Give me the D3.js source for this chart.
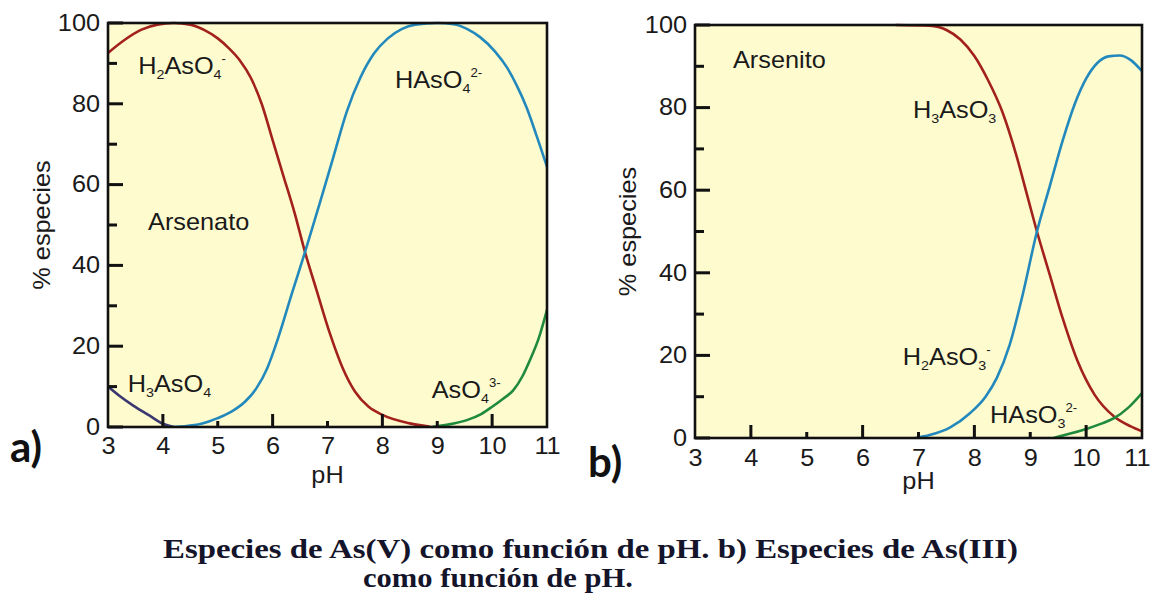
<!DOCTYPE html>
<html>
<head>
<meta charset="utf-8">
<script src="https://cdn.jsdelivr.net/npm/d3@7"></script>
<style>
  html, body { margin: 0; padding: 0; background: #ffffff; }
  svg { display: block; }
</style>
</head>
<body>
<svg id="chart" width="1152" height="594"></svg>
<script>
// ---------------- DATA ----------------
const phTicks = [3, 4, 5, 6, 7, 8, 9, 10, 11];
const phMajor = [4, 6, 8, 10];
const phMinor = [5, 7, 9];
const pctTicks = [0, 20, 40, 60, 80, 100];
const pctMinor = [10, 30, 50, 70, 90];

// a) As(V)
const h3aso4_pH = [3.0, 3.2, 3.46, 3.76, 4.0, 4.2];
const h3aso4 = [10, 7.8, 5.3, 2.8, 0.8, 0];

const h2aso4_pH = [3.0, 3.3, 3.6, 3.9, 4.2, 4.5, 4.75, 5.0, 5.2, 5.4, 5.6, 5.8, 6.0, 6.2, 6.4, 6.59, 6.8, 7.04, 7.28, 7.5, 7.75, 8.0, 8.5, 8.85];
const h2aso4 = [92.6, 95.8, 98.3, 99.6, 100, 99.6, 98.3, 96.2, 93.8, 90.8, 86.5, 80, 71, 62, 53, 43.3, 33.9, 23.3, 14.5, 8.8, 5, 3, 0.9, 0.1];

const haso4_pH = [4.1, 4.4, 4.7, 5.0, 5.25, 5.5, 5.7, 5.9, 6.1, 6.35, 6.59, 6.85, 7.1, 7.35, 7.6, 7.85, 8.1, 8.35, 8.6, 9.0, 9.3, 9.55, 9.78, 10.05, 10.27, 10.45, 10.63, 10.8, 11.0];
const haso4 = [0, 0.2, 0.8, 2.2, 3.8, 6.3, 9.5, 14.5, 22, 33, 43.3, 55, 66.5, 78, 86.5, 92.5, 96.2, 98.5, 99.6, 100, 99.7, 98.5, 96.5, 93, 89, 84.5, 79, 72.5, 64.4];

const aso4_pH = [8.9, 9.2, 9.54, 9.8, 10.0, 10.2, 10.38, 10.55, 10.69, 10.85, 11.0];
const aso4 = [0, 0.6, 1.7, 3.2, 5, 7, 9, 12.5, 16.6, 22, 29];

// b) As(III)
const h3aso3_pH = [6.6, 7.2, 7.5, 7.75, 8.0, 8.25, 8.5, 8.75, 8.95, 9.12, 9.35, 9.58, 9.85, 10.15, 10.5, 10.8, 11.0];
const h3aso3 = [100, 99.8, 98.8, 96.5, 92.5, 86.5, 79, 68.5, 58.5, 50, 39.5, 29, 18.5, 10.5, 5.2, 2.8, 1.6];

const h2aso3_pH = [6.95, 7.2, 7.56, 7.92, 8.2, 8.4, 8.63, 8.87, 9.12, 9.35, 9.58, 9.8, 10.0, 10.2, 10.4, 10.6, 10.8, 11.0];
const h2aso3 = [0, 0.7, 2.5, 6, 10, 14.5, 22.5, 35, 50, 61, 72, 81, 87, 90.8, 92.4, 92.6, 91.5, 88.8];

const haso3_pH = [9.42, 9.7, 10.0, 10.3, 10.5, 10.75, 11.0];
const haso3 = [0, 1.0, 2.2, 3.6, 4.8, 7.3, 10.9];

// labels: [pH, %, parts]
const labelsA = [
  [3.55, 87.4, [["H"], ["2", "sub"], ["AsO"], ["4", "sub"], ["-", "sup"]]],
  [8.23, 84, [["HAsO"], ["4", "sub"], ["2-", "sup"]]],
  [3.73, 48.8, [["Arsenato"]]],
  [3.36, 8.7, [["H"], ["3", "sub"], ["AsO"], ["4", "sub"]]],
  [8.9, 7.2, [["AsO"], ["4", "sub"], ["3-", "sup"]]]
];
const labelsB = [
  [3.68, 89.6, [["Arsenito"]]],
  [6.9, 77.5, [["H"], ["3", "sub"], ["AsO"], ["3", "sub"]]],
  [6.72, 17.7, [["H"], ["2", "sub"], ["AsO"], ["3", "sub"], ["-", "sup"]]],
  [8.28, 3.6, [["HAsO"], ["3", "sub"], ["2-", "sup"]]]
];

const axisTitleX = "pH";
const axisTitleY = "% especies";
const captionLine1 = "Especies de As(V) como función de pH. b) Especies de As(III)";
const captionLine2 = "como función de pH.";

// ---------------- DRAW ----------------
const svg = d3.select("#chart");
const SANS = "'Liberation Sans', Arial, Helvetica, sans-serif";
const SX = 1.1;
const INK = "#1a1a1a";
const COLORS = { red: "#a3211d", blue: "#2389bd", green: "#1f8a3d", navy: "#3a3870" };

function zip(xs, ys) { return xs.map((x, i) => [x, ys[i]]); }

function panel(box, series, labels, tag) {
  const x = d3.scaleLinear().domain([3, 11]).range([box.x0, box.x1]);
  const y = d3.scaleLinear().domain([0, 100]).range([box.y1, box.y0]);
  const g = svg.append("g");

  g.append("rect").attr("x", box.x0).attr("y", box.y0)
    .attr("width", box.x1 - box.x0).attr("height", box.y1 - box.y0)
    .attr("fill", "#fefbcf");

  const clipId = "clip" + tag;
  svg.append("clipPath").attr("id", clipId).append("rect")
    .attr("x", box.x0).attr("y", box.y0 - 2)
    .attr("width", box.x1 - box.x0).attr("height", box.y1 - box.y0 + 2);

  const line = d3.line().x(d => x(d[0])).y(d => y(d[1])).curve(d3.curveMonotoneX);
  const lg = g.append("g").attr("clip-path", `url(#${clipId})`);
  series.forEach(s => {
    lg.append("path").attr("d", line(zip(s.ph, s.v)))
      .attr("fill", "none").attr("stroke", s.color).attr("stroke-width", 2.6)
      .attr("stroke-linejoin", "round").attr("stroke-linecap", "round");
  });

  // frame
  g.append("rect").attr("x", box.x0).attr("y", box.y0)
    .attr("width", box.x1 - box.x0).attr("height", box.y1 - box.y0)
    .attr("fill", "none").attr("stroke", "#111").attr("stroke-width", 2.6);

  // inward ticks as filled rectangles placed by the scales
  const tickG = g.append("g");
  const yT = pctTicks.map(d => ({ v: d, len: 15 })).concat(pctMinor.map(d => ({ v: d, len: 9 })));
  tickG.selectAll("rect.yt").data(yT).enter().append("rect").attr("class", "yt")
    .attr("x", box.x0).attr("y", d => y(d.v) - 1.5)
    .attr("width", d => d.len).attr("height", 3).attr("fill", "#111");
  const xT = phMajor.map(d => ({ v: d, len: 13 })).concat(phMinor.map(d => ({ v: d, len: 6 })));
  tickG.selectAll("rect.xt").data(xT).enter().append("rect").attr("class", "xt")
    .attr("x", d => x(d.v) - 1.5).attr("y", d => box.y1 - d.len)
    .attr("width", 3).attr("height", d => d.len).attr("fill", "#111");

  // tick labels via axes
  const yLab = g.append("g").attr("transform", `translate(${box.x0},0)`)
    .call(d3.axisLeft(y).tickValues(pctTicks).tickSize(0).tickPadding(8));
  const xLab = g.append("g").attr("transform", `translate(0,${box.y1})`)
    .call(d3.axisBottom(x).tickValues(phTicks).tickSize(0).tickPadding(box.xpad));
  [yLab, xLab].forEach(a => {
    a.select(".domain").remove();
    a.selectAll(".tick line").remove();
    a.selectAll("text").attr("font-family", SANS).attr("font-size", 23).attr("fill", INK)
      .attr("transform", `scale(${SX},1)`);
  });
  yLab.selectAll("text").attr("x", -8 / SX);
  if (box.lastEnd) {
    xLab.selectAll(".tick").filter(d => d === 11).select("text")
      .attr("text-anchor", "end").attr("x", 8 / SX);
  }

  // species labels
  labels.forEach(([px, py, parts]) => {
    const t = g.append("text")
      .attr("transform", `translate(${x(px)},${y(py)}) scale(${SX},1)`)
      .attr("font-family", SANS).attr("font-size", 23).attr("fill", INK);
    let offset = 0;
    parts.forEach(([txt, kind]) => {
      const ts = t.append("tspan").text(txt);
      let target = 0;
      if (kind === "sub") { ts.attr("font-size", 13); target = 5; }
      else if (kind === "sup") { ts.attr("font-size", 12); target = -11; }
      ts.attr("dy", target - offset);
      offset = target;
    });
  });

  // axis titles
  const cx = (box.x0 + box.x1) / 2;
  g.append("text")
    .attr("transform", `translate(${cx},${box.titleY}) scale(${SX},1)`)
    .attr("text-anchor", "middle").attr("font-family", SANS).attr("font-size", 23)
    .attr("fill", INK).text(axisTitleX);
  g.append("text")
    .attr("transform", `translate(${box.yTitleX},${(box.y0 + box.y1) / 2}) rotate(-90) scale(${SX},1)`)
    .attr("text-anchor", "middle").attr("font-family", SANS).attr("font-size", 23)
    .attr("fill", INK).text(axisTitleY);

  // panel tag
  g.append("text").attr("x", box.tagX).attr("y", box.tagY)
    .attr("font-family", "Lato, 'Open Sans', sans-serif").attr("font-weight", 700)
    .attr("font-size", 42).attr("fill", "#111").text(tag + ")");
}

panel({ x0: 108, x1: 547, y0: 23, y1: 427, xpad: 11, titleY: 483, yTitleX: 50, tagX: 10, tagY: 462 },
  [
    { ph: h3aso4_pH, v: h3aso4, color: COLORS.navy },
    { ph: h2aso4_pH, v: h2aso4, color: COLORS.red },
    { ph: haso4_pH, v: haso4, color: COLORS.blue },
    { ph: aso4_pH, v: aso4, color: COLORS.green }
  ], labelsA, "a");

panel({ x0: 695, x1: 1142, y0: 25, y1: 438, xpad: 12, titleY: 489, yTitleX: 636, tagX: 588, tagY: 477, lastEnd: true },
  [
    { ph: h3aso3_pH, v: h3aso3, color: COLORS.red },
    { ph: h2aso3_pH, v: h2aso3, color: COLORS.blue },
    { ph: haso3_pH, v: haso3, color: COLORS.green }
  ], labelsB, "b");

// caption
const SERIF = "'Liberation Serif', 'Times New Roman', serif";
svg.append("text").attr("x", 163).attr("y", 558)
  .attr("font-family", SERIF).attr("font-weight", 700).attr("font-size", 27)
  .attr("fill", "#14142a").attr("textLength", 855).attr("lengthAdjust", "spacingAndGlyphs")
  .text(captionLine1);
svg.append("text").attr("x", 363).attr("y", 587)
  .attr("font-family", SERIF).attr("font-weight", 700).attr("font-size", 27)
  .attr("fill", "#14142a").attr("textLength", 270).attr("lengthAdjust", "spacingAndGlyphs")
  .text(captionLine2);
</script>
</body>
</html>
